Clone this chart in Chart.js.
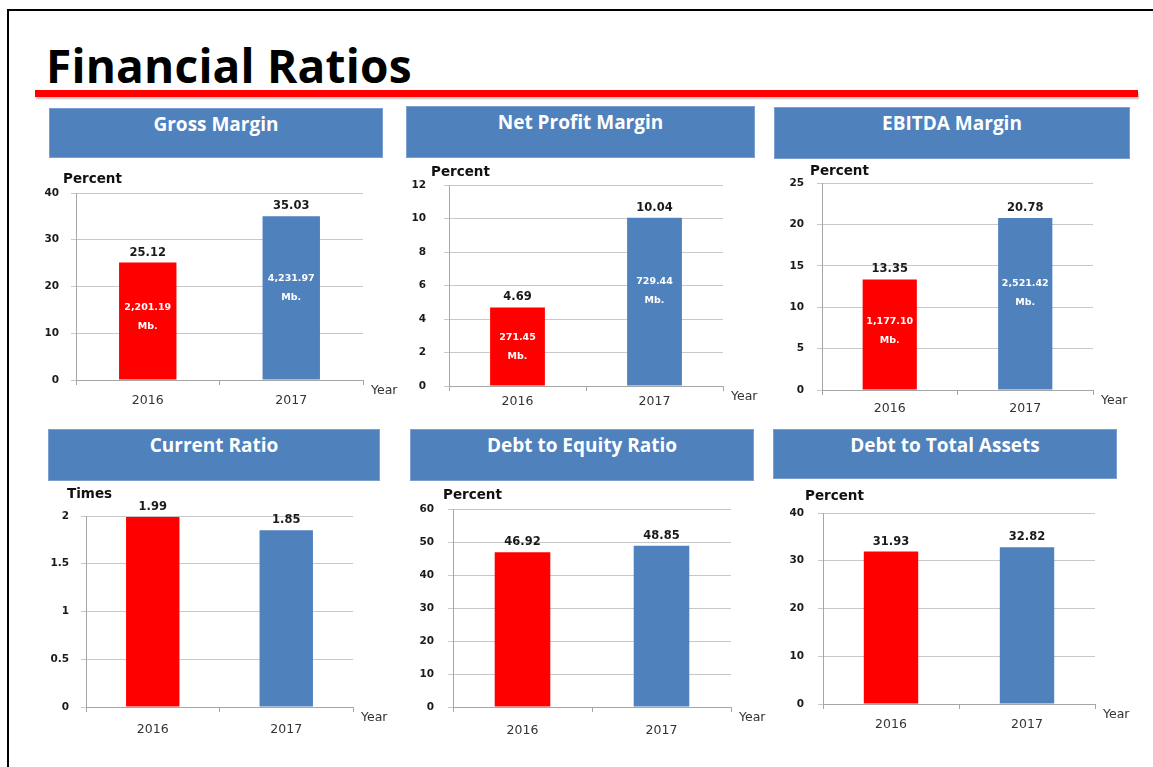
<!DOCTYPE html>
<html>
<head>
<meta charset="utf-8">
<script src="https://cdn.jsdelivr.net/npm/chart.js@4.4.1/dist/chart.umd.min.js"></script>
<style>
  body { margin:0; width:1153px; height:767px; overflow:hidden; background:#fff; position:relative; }
  .frame { position:absolute; left:7px; top:9px; width:1200px; height:800px; border-left:2px solid #000; border-top:2px solid #000; }
  .title { position:absolute; left:46px; top:42px; margin:0; font:bold 46px/46px "Open Sans", sans-serif; color:#000; white-space:nowrap; letter-spacing:0.2px; }
  .rule { position:absolute; left:35px; top:90px; width:1103px; height:7px; background:#FF0000; box-shadow:1px 2px 2px rgba(0,0,0,0.25); }
  .head { position:absolute; box-sizing:border-box; background:#4F81BD; border:1px solid #7BA0CE; color:#fff;
          font:bold 19px/19px "Open Sans", sans-serif; text-align:center; padding-top:6px; white-space:nowrap; }
  canvas { position:absolute; }
</style>
</head>
<body>
<div class="frame"></div>
<div class="title">Financial Ratios</div>
<div class="rule"></div>
<div id="charts"></div>
<script>
// values
const years = ['2016', '2017'];
const titles = ['Gross Margin', 'Net Profit Margin', 'EBITDA Margin', 'Current Ratio', 'Debt to Equity Ratio', 'Debt to Total Assets'];
const units = ['Percent', 'Percent', 'Percent', 'Times', 'Percent', 'Percent'];

const grossMargin = [25.12, 35.03];
const netProfitMargin = [4.69, 10.04];
const ebitdaMargin = [13.35, 20.78];
const currentRatio = [1.99, 1.85];
const debtToEquity = [46.92, 48.85];
const debtToAssets = [31.93, 32.82];

const grossAmounts = ['2,201.19', '4,231.97'];
const netAmounts = ['271.45', '729.44'];
const ebitdaAmounts = ['1,177.10', '2,521.42'];

const axisMax = [40, 12, 25, 2, 60, 40];
const axisStep = [10, 2, 5, 0.5, 10, 10];

const series = [grossMargin, netProfitMargin, ebitdaMargin, currentRatio, debtToEquity, debtToAssets];
const amounts = [grossAmounts, netAmounts, ebitdaAmounts, null, null, null];
const barColors = ['#FF0000', '#4F81BD'];

// page layout: header box [x, y, w, h], plot area [left, top, right, bottom]
const boxes = [[49,108,334,50], [406,106,349,52], [774,107,356,52], [48,429,332,52], [410,429,344,52], [773,429,344,50]];
const plots = [[76,193,363,380], [449,185,723,386], [822,183,1093,390], [86,516,353,707], [453,509,731,707], [823,513,1095,704]];
const unitOffset = [[-13,-14], [-18,-13], [-12,-12], [-19,-22], [-10,-14], [-18,-17]];
const yPad = [12, 18, 13, 12, 14, 14];
const xPad = [8, 3, 6, 10, 11, 8];

const FONT = '"DejaVu Sans", Verdana, sans-serif';
const holder = document.getElementById('charts');

const labelsPlugin = {
  id: 'slideLabels',
  afterDraw(chart) {
    const ctx = chart.ctx;
    const area = chart.chartArea;
    const i = chart.options.plugins.slideLabels.index;
    ctx.save();
    // unit over the y axis
    ctx.fillStyle = '#111';
    ctx.font = 'bold 13.5px ' + FONT;
    ctx.textAlign = 'left';
    ctx.textBaseline = 'middle';
    ctx.fillText(units[i], area.left + unitOffset[i][0], area.top + unitOffset[i][1]);
    // "Year" at the end of the x axis
    ctx.fillStyle = '#333';
    ctx.font = '12.5px ' + FONT;
    ctx.fillText('Year', area.right + 8, area.bottom + 11);

    const meta = chart.getDatasetMeta(0);
    const base = chart.scales.y.getPixelForValue(0);
    meta.data.forEach((bar, k) => {
      ctx.textAlign = 'center';
      ctx.fillStyle = '#1a1a1a';
      ctx.font = 'bold 11.5px ' + FONT;
      ctx.fillText(series[i][k].toFixed(2), bar.x, bar.y - 10);
      if (amounts[i]) {
        const y1 = bar.y + (base - bar.y) * 0.38;
        ctx.fillStyle = '#fff';
        ctx.font = 'bold 9.5px ' + FONT;
        ctx.fillText(amounts[i][k], bar.x, y1);
        ctx.fillText('Mb.', bar.x, y1 + 19);
      }
    });
    ctx.restore();
  }
};

titles.forEach((t, i) => {
  const b = boxes[i];
  const head = document.createElement('div');
  head.className = 'head';
  head.style.left = b[0] + 'px';
  head.style.top = b[1] + 'px';
  head.style.width = b[2] + 'px';
  head.style.height = b[3] + 'px';
  head.textContent = t;
  holder.appendChild(head);

  const p = plots[i];
  const cv = document.createElement('canvas');
  cv.width = p[2] - p[0] + 100;
  cv.height = p[3] - p[1] + 75;
  cv.style.left = (p[0] - 60) + 'px';
  cv.style.top = (p[1] - 40) + 'px';
  holder.appendChild(cv);

  new Chart(cv, {
    type: 'bar',
    data: {
      labels: years,
      datasets: [{
        data: series[i],
        backgroundColor: barColors,
        barPercentage: 0.4,
        categoryPercentage: 1
      }]
    },
    options: {
      animation: false,
      responsive: false,
      layout: { padding: { top: 40, right: 40, left: 0, bottom: 0 } },
      plugins: {
        legend: { display: false },
        tooltip: { enabled: false },
        slideLabels: { index: i }
      },
      scales: {
        x: {
          afterFit: (s) => { s.height = 35; },
          grid: { drawOnChartArea: false, drawTicks: true, tickLength: 5, color: '#A6A6A6' },
          border: { color: '#A6A6A6' },
          ticks: { color: '#333', font: { family: FONT, size: 12.5 }, padding: xPad[i], maxRotation: 0 }
        },
        y: {
          min: 0,
          max: axisMax[i],
          afterFit: (s) => { s.width = 60; },
          grid: { color: '#C8C8C8', tickLength: 5 },
          border: { color: '#A6A6A6' },
          ticks: {
            stepSize: axisStep[i],
            padding: yPad[i],
            color: '#1a1a1a',
            font: { family: FONT, size: 10.5, weight: 'bold' },
            callback: (v) => String(v)
          }
        }
      }
    },
    plugins: [labelsPlugin]
  });
});
</script>
</body>
</html>
